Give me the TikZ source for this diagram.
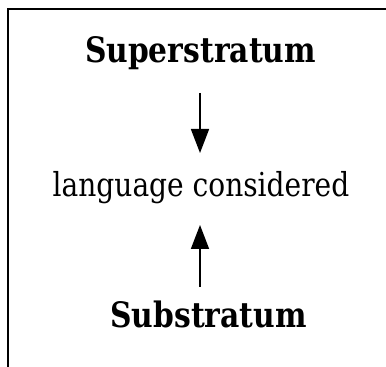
\documentclass[tikz,border=0pt]{standalone}
\usepackage{fontspec}
\setmainfont[FakeStretch=0.85]{DejaVu Serif}
\usetikzlibrary{arrows.meta}
\begin{document}
\begin{tikzpicture}[x=1pt,y=1pt,
  lbl/.style={inner sep=0pt, anchor=base},
  bigb/.style={lbl, font=\fontsize{35}{40}\selectfont\bfseries},
  mid/.style={lbl, font=\fontsize{33}{38}\selectfont},
  arr/.style={line width=1.6pt, -{Triangle[length=24pt,width=18pt]}}]
\useasboundingbox (0,0) rectangle (386,367);
\draw[line width=2.5pt] (8,-2) -- (8,358) -- (390,358);
\node[bigb] (sup) at (200.5,367-63) {Superstratum};
\node[mid] (lang) at (201,367-197) {language considered};
\node[bigb] (sub) at (208.5,367-328) {Substratum};
\coordinate (a1) at (200,367-93);
\coordinate (a2) at (200,367-153);
\coordinate (b1) at (200,367-287);
\coordinate (b2) at (200,367-225);
\draw[arr] (a1) -- (a2);
\draw[arr] (b1) -- (b2);
\end{tikzpicture}
\end{document}
